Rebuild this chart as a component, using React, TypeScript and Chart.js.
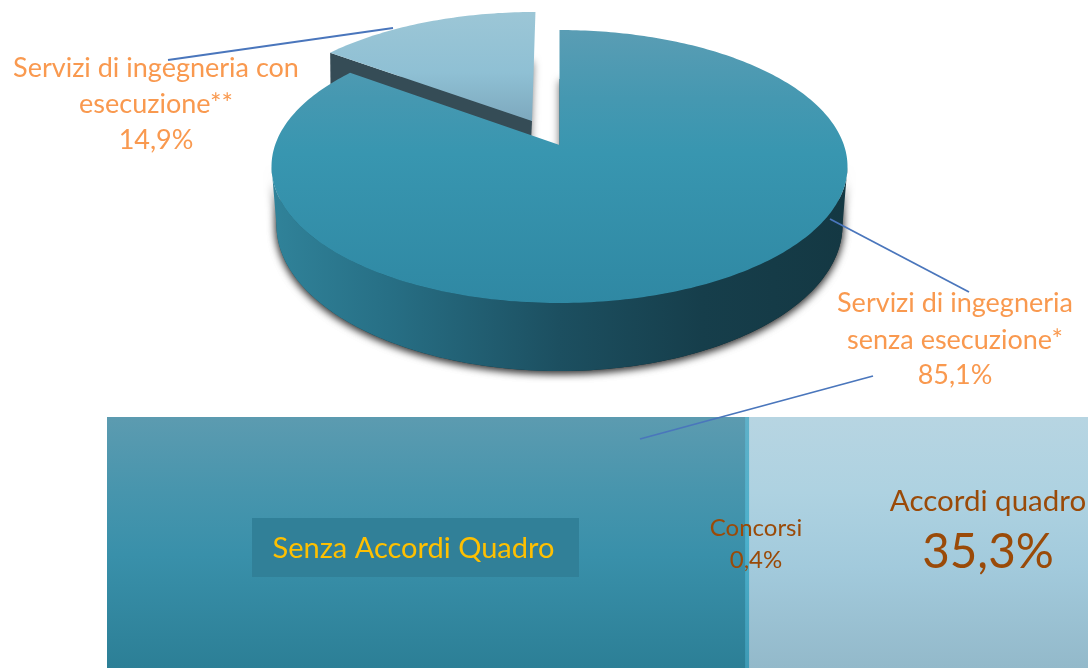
import React, { useEffect, useRef } from "react";
import { Chart, registerables } from "chart.js";

Chart.register(...registerables);

// ---- data ----
const pieCategories = ["Servizi di ingegneria senza esecuzione*", "Servizi di ingegneria con esecuzione**"];
const pieValues = [85.1, 14.9];
const barCategories = ["Senza Accordi Quadro", "Concorsi", "Accordi quadro"];
const barValues = [64.3, 0.4, 35.3];
const pieRightLines = ["Servizi di ingegneria", "senza esecuzione*", "85,1%"];
const pieLeftLines = ["Servizi di ingegneria con", "esecuzione**", "14,9%"];
const concorsiLines = ["Concorsi", "0,4%"];
const accordiLines = ["Accordi quadro", "35,3%"];
const senzaLabel = "Senza Accordi Quadro";

// ---- layout / style ----
const W = 1088;
const H = 668;
const FONT = "Lato, 'Open Sans', sans-serif";
const ORANGE = "#F9994F";
const BROWN = "#9A4A08";
const GOLD = "#FFC000";
const LEADER = "#4A76BC";
const EXPLODE = 0.2086;

type Proj = { cx: number; ay: number; a: number; s: number; k: number };
const TOP: Proj = { cx: 559.5, ay: 145, a: 284.4, s: 133.1, k: 0.1575 };
const BOTTOM: Proj = { cx: 559.5, ay: 202, a: 279.5, s: 142.4, k: 0.1575 };
const EX_TOP: Proj = { cx: 558, ay: 145, a: 284.4, s: 133.1, k: 0.1575 };
const EX_BOTTOM: Proj = { cx: 555, ay: 202, a: 280, s: 142.4, k: 0.1575 };

function project(p: Proj, u: number, v: number): [number, number] {
  const w = 1 - p.k * v;
  return [p.cx + (p.a * u) / w, p.ay + (p.s * v) / w];
}

function vGrad(ctx: CanvasRenderingContext2D, y0: number, y1: number, stops: [number, string][]) {
  const g = ctx.createLinearGradient(0, y0, 0, y1);
  stops.forEach(([o, c]) => g.addColorStop(o, c));
  return g;
}

function slicePoints(p: Proj, start: number, end: number, off: number): [number, number][] {
  const mid = (start + end) / 2;
  const ou = Math.cos(mid) * off;
  const ov = Math.sin(mid) * off;
  const pts: [number, number][] = [project(p, ou, ov)];
  const n = Math.max(8, Math.ceil(((end - start) * 180) / Math.PI));
  for (let i = 0; i <= n; i++) {
    const t = start + ((end - start) * i) / n;
    pts.push(project(p, Math.cos(t) + ou, Math.sin(t) + ov));
  }
  return pts;
}

function tracePts(ctx: CanvasRenderingContext2D, pts: [number, number][]) {
  ctx.beginPath();
  pts.forEach(([x, y], i) => (i ? ctx.lineTo(x, y) : ctx.moveTo(x, y)));
  ctx.closePath();
}

function withShadow(ctx: CanvasRenderingContext2D, fn: () => void) {
  ctx.save();
  ctx.shadowColor = "rgba(0,0,0,0.6)";
  ctx.shadowBlur = 8;
  ctx.shadowOffsetX = 0;
  ctx.shadowOffsetY = 2;
  fn();
  ctx.restore();
}

function drawText(ctx: CanvasRenderingContext2D, text: string, x: number, y: number, size: number, color: string) {
  ctx.font = `${size}px ${FONT}`;
  ctx.fillStyle = color;
  ctx.textAlign = "center";
  ctx.textBaseline = "middle";
  ctx.fillText(text, x, y);
}

function drawLeader(ctx: CanvasRenderingContext2D, x0: number, y0: number, x1: number, y1: number) {
  ctx.save();
  ctx.strokeStyle = LEADER;
  ctx.lineWidth = 1.8;
  ctx.beginPath();
  ctx.moveTo(x0, y0);
  ctx.lineTo(x1, y1);
  ctx.stroke();
  ctx.restore();
}

const pie3dPlugin = {
  id: "pie3d",
  beforeDatasetsDraw(chart: any) {
    const ctx: CanvasRenderingContext2D = chart.ctx;
    const arcs = chart.getDatasetMeta(0).data;
    const main = arcs[0];
    const ex = arcs[1];

    // exploded slice
    const exBottom = slicePoints(EX_BOTTOM, ex.startAngle, ex.endAngle, EXPLODE);
    const exTop = slicePoints(EX_TOP, ex.startAngle, ex.endAngle, EXPLODE);
    withShadow(ctx, () => {
      ctx.fillStyle = "#364D57";
      tracePts(ctx, exBottom);
      ctx.fill();
    });
    ctx.fillStyle = "#354C56";
    tracePts(ctx, [exTop[0], exTop[1], exBottom[1], exBottom[0]]);
    ctx.fill();
    ctx.fillStyle = vGrad(ctx, 12, 122, [
      [0, "#9CC6D6"],
      [0.55, "#8FC0D4"],
      [1, "#7DA8BD"],
    ]);
    tracePts(ctx, exTop);
    ctx.fill();

    // main slice: wall, then top
    const wallGrad = ctx.createLinearGradient(275, 0, 845, 0);
    wallGrad.addColorStop(0, "#308299");
    wallGrad.addColorStop(0.2, "#276F85");
    wallGrad.addColorStop(0.5, "#1C4F60");
    wallGrad.addColorStop(0.75, "#163E4B");
    wallGrad.addColorStop(1, "#143843");

    const mBottom = slicePoints(BOTTOM, main.startAngle, main.endAngle, 0);
    const mTop = slicePoints(TOP, main.startAngle, main.endAngle, 0);
    const a0 = Math.max(main.startAngle, Math.asin(TOP.k));
    const a1 = Math.min(main.endAngle, Math.PI - Math.asin(TOP.k));
    const wall: [number, number][] = [];
    const n = 180;
    for (let i = 0; i <= n; i++) {
      const t = a0 + ((a1 - a0) * i) / n;
      wall.push(project(TOP, Math.cos(t), Math.sin(t)));
    }
    for (let i = n; i >= 0; i--) {
      const t = a0 + ((a1 - a0) * i) / n;
      wall.push(project(BOTTOM, Math.cos(t), Math.sin(t)));
    }
    withShadow(ctx, () => {
      ctx.fillStyle = wallGrad;
      tracePts(ctx, mBottom);
      ctx.fill();
      tracePts(ctx, wall);
      ctx.fill();
    });
    ctx.fillStyle = vGrad(ctx, 30, 305, [
      [0, "#5A9DB4"],
      [0.25, "#4598B1"],
      [0.45, "#3896B0"],
      [1, "#2F88A3"],
    ]);
    tracePts(ctx, mTop);
    ctx.fill();

    // labels
    pieLeftLines.forEach((t, i) => drawText(ctx, t, 156, [68, 104, 140][i], 27, ORANGE));
    pieRightLines.forEach((t, i) => drawText(ctx, t, 955, [303, 340, 375][i], 27, ORANGE));
    drawLeader(ctx, 168, 60, 393, 28);
    drawLeader(ctx, 830, 219, 969, 292);
    return false;
  },
};

const barLabelPlugin = {
  id: "barLabels",
  afterDatasetsDraw(chart: any) {
    const ctx: CanvasRenderingContext2D = chart.ctx;
    ctx.fillStyle = "#318098";
    ctx.fillRect(252, 518, 327, 59);
    drawText(ctx, senzaLabel, 413.5, 549, 29, GOLD);
    concorsiLines.forEach((t, i) => drawText(ctx, t, 756, [528, 560][i], 24, BROWN));
    drawText(ctx, accordiLines[0], 988, 501, 29.5, BROWN);
    drawText(ctx, accordiLines[1], 988, 553, 47.5, BROWN);
    drawLeader(ctx, 873, 376, 640, 439);
  },
};

const barStops: [number, string][][] = [
  [
    [0, "#5C9BB0"],
    [0.3, "#4795AD"],
    [0.55, "#3990AA"],
    [1, "#2C7F96"],
  ],
  [
    [0, "#5FB1C9"],
    [0.5, "#4BB0CC"],
    [1, "#3E9AB5"],
  ],
  [
    [0, "#B7D5E2"],
    [0.3, "#AED2E1"],
    [0.6, "#A2CADC"],
    [1, "#93B9CA"],
  ],
];

export default function App() {
  const pieRef = useRef<HTMLCanvasElement>(null);
  const barRef = useRef<HTMLCanvasElement>(null);

  useEffect(() => {
    const pie = new Chart(pieRef.current!, {
      type: "pie",
      data: {
        labels: pieCategories,
        datasets: [{ data: pieValues, borderWidth: 0 }],
      },
      options: {
        animation: false,
        responsive: false,
        plugins: { legend: { display: false }, tooltip: { enabled: false } },
      },
      plugins: [pie3dPlugin],
    } as any);

    const bar = new Chart(barRef.current!, {
      type: "bar",
      data: {
        labels: ["Tipologia"],
        datasets: barCategories.map((name, i) => ({
          label: name,
          data: [barValues[i]],
          borderWidth: 0,
          barPercentage: 1,
          categoryPercentage: 1,
          backgroundColor: (c: any) => {
            const area = c.chart.chartArea;
            if (!area) return barStops[i][0][1];
            return vGrad(c.chart.ctx, area.top, area.bottom, barStops[i]);
          },
        })),
      },
      options: {
        indexAxis: "y",
        animation: false,
        responsive: false,
        layout: { padding: { left: 107, top: 417, right: 0, bottom: 0 } },
        scales: {
          x: { stacked: true, display: false, min: 0, max: 98.9 },
          y: { stacked: true, display: false },
        },
        plugins: { legend: { display: false }, tooltip: { enabled: false } },
      },
      plugins: [barLabelPlugin],
    } as any);

    return () => {
      pie.destroy();
      bar.destroy();
    };
  }, []);

  const style: React.CSSProperties = { position: "absolute", left: 0, top: 0 };
  return (
    <div style={{ position: "absolute", left: 0, top: 0, width: W, height: H, overflow: "hidden", background: "#fff" }}>
      <canvas ref={pieRef} width={W} height={H} style={style} />
      <canvas ref={barRef} width={W} height={H} style={style} />
    </div>
  );
}
